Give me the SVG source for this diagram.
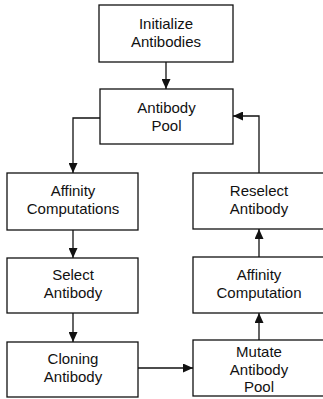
<svg xmlns="http://www.w3.org/2000/svg" width="323" height="399" viewBox="0 0 323 399">
<style>
.box{fill:#fff;stroke:#111;stroke-width:1.3}
.lbl{font-family:"Liberation Sans",Arial,sans-serif;font-size:15px;fill:#111;text-anchor:middle}
.con{fill:none;stroke:#111;stroke-width:1.3}
</style>
<defs>
<marker id="ah" markerWidth="10" markerHeight="9" refX="10" refY="4.5" orient="auto" markerUnits="userSpaceOnUse">
<path d="M0,0 L10,4.5 L0,9 Z" fill="#111"/>
</marker>
</defs>
<rect width="323" height="399" fill="#fff"/>
<g id="init"><rect class="box" x="99" y="5" width="134" height="57"/><text class="lbl" x="166" y="29">Initialize</text><text class="lbl" x="166" y="47">Antibodies</text></g>
<g id="pool"><rect class="box" x="100" y="89" width="133" height="55"/><text class="lbl" x="166.5" y="113">Antibody</text><text class="lbl" x="166.5" y="131">Pool</text></g>
<g id="affs"><rect class="box" x="7" y="173" width="131" height="57"/><text class="lbl" x="73" y="196">Affinity</text><text class="lbl" x="73" y="214">Computations</text></g>
<g id="select"><rect class="box" x="7" y="258" width="131" height="55"/><text class="lbl" x="73" y="280">Select</text><text class="lbl" x="73" y="298">Antibody</text></g>
<g id="clone"><rect class="box" x="7" y="342" width="131" height="55"/><text class="lbl" x="73" y="364">Cloning</text><text class="lbl" x="73" y="382">Antibody</text></g>
<g id="reselect"><rect class="box" x="193" y="173" width="134" height="56"/><text class="lbl" x="259" y="195.5">Reselect</text><text class="lbl" x="259" y="213.5">Antibody</text></g>
<g id="affc"><rect class="box" x="193" y="257" width="134" height="56"/><text class="lbl" x="259" y="279.5">Affinity</text><text class="lbl" x="259" y="297.5">Computation</text></g>
<g id="mutate"><rect class="box" x="193" y="340" width="134" height="56"/><text class="lbl" x="259" y="357">Mutate</text><text class="lbl" x="259" y="374.5">Antibody</text><text class="lbl" x="259" y="392">Pool</text></g>
<g id="connectors">
<path class="con" d="M166,62 V89" marker-end="url(#ah)"/>
<path class="con" d="M100,118 H73 V173" marker-end="url(#ah)"/>
<path class="con" d="M73,230 V258" marker-end="url(#ah)"/>
<path class="con" d="M73,313 V342" marker-end="url(#ah)"/>
<path class="con" d="M138,368 H193" marker-end="url(#ah)"/>
<path class="con" d="M259,340 V313" marker-end="url(#ah)"/>
<path class="con" d="M259,257 V229" marker-end="url(#ah)"/>
<path class="con" d="M259,173 V116 H233" marker-end="url(#ah)"/>
</g>
</svg>
